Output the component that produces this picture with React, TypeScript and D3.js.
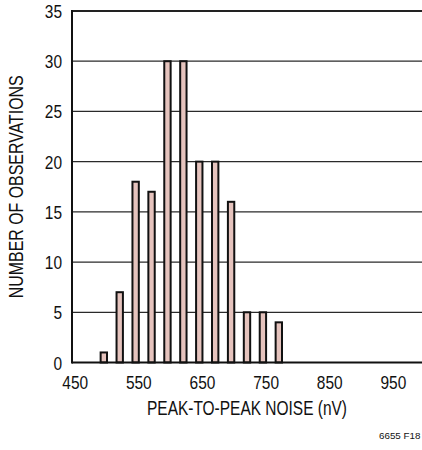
import React from "react";
import * as d3 from "d3";

const binCenters = [495, 520, 545, 570, 595, 620, 645, 670, 695, 720, 745, 770];
const counts = [1, 7, 18, 17, 30, 30, 20, 20, 16, 5, 5, 4];
const xTicks = [450, 550, 650, 750, 850, 950];
const yTicks = [0, 5, 10, 15, 20, 25, 30, 35];
const xTitle = "PEAK-TO-PEAK NOISE (nV)";
const yTitle = "NUMBER OF OBSERVATIONS";
const figId = "6655 F18";

const W = 422;
const H = 450;
const left = 72;
const right = 422;
const top = 11;
const bottom = 362.5;
const FONT = "'Liberation Sans', Arial, sans-serif";
const SX = 0.86;

export default function App() {
  const x = d3.scaleLinear().domain([445, 995]).range([left, right]);
  const y = d3.scaleLinear().domain([0, 35]).range([bottom, top]);
  const halfBin = 5;

  return (
    <svg
      width={W}
      height={H}
      style={{ position: "absolute", left: 0, top: 0, background: "#fff" }}
      fontFamily={FONT}
    >
      {yTicks
        .filter((t) => t > 0 && t < 35)
        .map((t) => (
          <line key={t} x1={left} x2={right} y1={y(t)} y2={y(t)} stroke="#2a2a2a" strokeWidth={1.2} />
        ))}
      {counts.map((c, i) => (
        <rect
          key={i}
          x={x(binCenters[i] - halfBin)}
          y={y(c)}
          width={x(binCenters[i] + halfBin) - x(binCenters[i] - halfBin)}
          height={y(0) - y(c)}
          fill="#e5c3bd"
          stroke="#111"
          strokeWidth={2}
        />
      ))}
      <line x1={left} x2={right} y1={top} y2={top} stroke="#222" strokeWidth={2} />
      <line x1={left} x2={right} y1={bottom} y2={bottom} stroke="#111" strokeWidth={2} />
      <line x1={left} x2={left} y1={top - 1} y2={bottom + 1} stroke="#111" strokeWidth={2} />
      {yTicks.map((t) => (
        <text
          key={t}
          transform={`translate(62,${y(t) + 7}) scale(${SX},1)`}
          textAnchor="end"
          fontSize={18}
          fill="#111"
        >
          {t}
        </text>
      ))}
      {xTicks.map((t) => (
        <text
          key={t}
          transform={`translate(${x(t)},389) scale(${SX},1)`}
          textAnchor="middle"
          fontSize={18}
          fill="#111"
        >
          {t}
        </text>
      ))}
      <text
        x={(left + right) / 2}
        y={415}
        textAnchor="middle"
        fontSize={19.5}
        fill="#111"
        textLength={200}
        lengthAdjust="spacingAndGlyphs"
      >
        {xTitle}
      </text>
      <text
        transform={`translate(23,${(top + bottom) / 2}) rotate(-90)`}
        textAnchor="middle"
        fontSize={19.5}
        fill="#111"
        textLength={223}
        lengthAdjust="spacingAndGlyphs"
      >
        {yTitle}
      </text>
      <text x={379} y={439} fontSize={9.8} fill="#111">
        {figId}
      </text>
    </svg>
  );
}
